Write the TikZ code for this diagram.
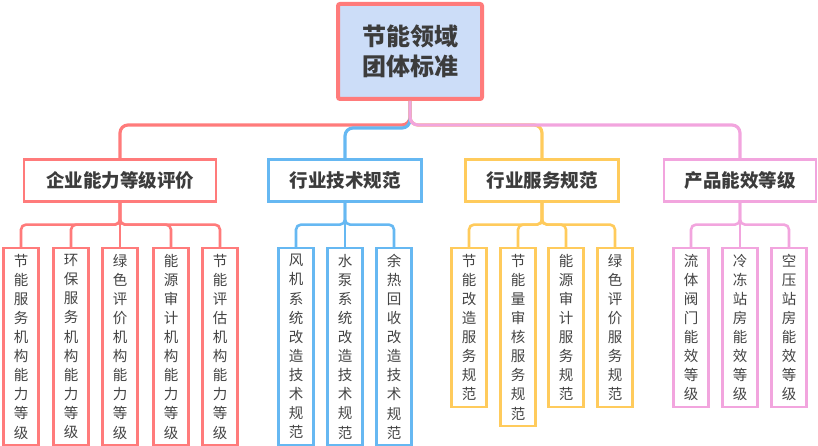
\documentclass[tikz,border=0pt]{standalone}
\usepackage{fontspec}
\newfontfamily\cjk{Noto Sans CJK SC}
\usetikzlibrary{calc}
\definecolor{cR}{HTML}{FF7B7B}
\definecolor{cB}{HTML}{66B8F2}
\definecolor{cY}{HTML}{FFCB5C}
\definecolor{cP}{HTML}{F2A5DE}
\definecolor{rootfill}{HTML}{CCDDF8}
\definecolor{txt}{HTML}{3C3C3C}
\definecolor{ltxt}{HTML}{444444}
\tikzset{
  rootbox/.style={draw=cR, line width=4pt, fill=rootfill, rounded corners=2pt,
    minimum width=144pt, minimum height=95pt, align=center, text=txt,
    font=\cjk\bfseries\fontsize{24}{30}\selectfont},
  lonebox/.style={draw, line width=2.2pt, fill=white, minimum height=42pt,
    text=txt, font=\cjk\bfseries\fontsize{18.5}{22}\selectfont},
  leafbox/.style={draw, line width=2.2pt, fill=white, minimum width=35pt,
    inner sep=0pt, anchor=north, align=center, text=ltxt,
    font=\cjk\fontsize{14.5}{19.1}\selectfont},
  topconn/.style={line width=3.2pt, rounded corners=8pt},
  leafconn/.style={line width=2.6pt, rounded corners=5pt},
}
\begin{document}
\begin{tikzpicture}[x=1pt,y=-1pt]
\useasboundingbox (0,0) rectangle (818,446);

% level-1 nodes
\node[lonebox, draw=cR, minimum width=192pt] (e1) at (120,180.5) {企业能力等级评价};
\node[lonebox, draw=cB, minimum width=153pt] (e2) at (345,180.5) {行业技术规范};
\node[lonebox, draw=cY, minimum width=153pt] (e3) at (542,180.5) {行业服务规范};
\node[lonebox, draw=cP, minimum width=152pt] (e4) at (740,180.5) {产品能效等级};

% root
\node[rootbox] (root) at (410,51.5) {节能领域\\团体标准};
\coordinate (j0) at ($(root.south)+(0,24)$);
\coordinate (j1) at ($(root.south)+(0,27)$);

% top connectors
\draw[topconn, cR] (root.south) -- (j0) -| (e1.north);
\draw[topconn, cB] (root.south) -- (j1) -| (e2.north);
\draw[topconn, cY] (root.south) -- (j0) -| (e3.north);
\draw[topconn, cP] (root.south) -- (j0) -| (e4.north);

% leaves: red
\node[leafbox, draw=cR, minimum height=197pt] (r1) at (21,247) {节\\能\\服\\务\\机\\构\\能\\力\\等\\级};
\node[leafbox, draw=cR, minimum height=197pt] (r2) at (71,247) {环\\保\\服\\务\\机\\构\\能\\力\\等\\级};
\node[leafbox, draw=cR, minimum height=197pt] (r3) at (120,247) {绿\\色\\评\\价\\机\\构\\能\\力\\等\\级};
\node[leafbox, draw=cR, minimum height=197pt] (r4) at (171,247) {能\\源\\审\\计\\机\\构\\能\\力\\等\\级};
\node[leafbox, draw=cR, minimum height=197pt] (r5) at (220,247) {节\\能\\评\\估\\机\\构\\能\\力\\等\\级};
% leaves: blue
\node[leafbox, draw=cB, minimum height=197pt] (b1) at (296,247) {风\\机\\系\\统\\改\\造\\技\\术\\规\\范};
\node[leafbox, draw=cB, minimum height=197pt] (b2) at (345,247) {水\\泵\\系\\统\\改\\造\\技\\术\\规\\范};
\node[leafbox, draw=cB, minimum height=197pt] (b3) at (394,247) {余\\热\\回\\收\\改\\造\\技\\术\\规\\范};
% leaves: yellow
\node[leafbox, draw=cY, minimum height=159pt] (y1) at (469,247) {节\\能\\改\\造\\服\\务\\规\\范};
\node[leafbox, draw=cY, minimum height=178pt] (y2) at (518,247) {节\\能\\量\\审\\核\\服\\务\\规\\范};
\node[leafbox, draw=cY, minimum height=159pt] (y3) at (566,247) {能\\源\\审\\计\\服\\务\\规\\范};
\node[leafbox, draw=cY, minimum height=159pt] (y4) at (615,247) {绿\\色\\评\\价\\服\\务\\规\\范};
% leaves: pink
\node[leafbox, draw=cP, minimum height=159pt] (p1) at (691,247) {流\\体\\阀\\门\\能\\效\\等\\级};
\node[leafbox, draw=cP, minimum height=159pt] (p2) at (740,247) {冷\\冻\\站\\房\\能\\效\\等\\级};
\node[leafbox, draw=cP, minimum height=159pt] (p3) at (789,247) {空\\压\\站\\房\\能\\效\\等\\级};

% leaf connectors
\coordinate (e1j) at ($(e1.south)+(0,22)$);
\coordinate (e2j) at ($(e2.south)+(0,22)$);
\coordinate (e3j) at ($(e3.south)+(0,22)$);
\coordinate (e4j) at ($(e4.south)+(0,22)$);
\foreach \l in {r1,r2,r4,r5} \draw[leafconn, cR] (e1.south) -- (e1j) -| (\l.north);
\draw[leafconn, cR] (e1.south) -- (r3.north);
\foreach \l in {b1,b3} \draw[leafconn, cB] (e2.south) -- (e2j) -| (\l.north);
\draw[leafconn, cB] (e2.south) -- (b2.north);
\foreach \l in {y1,y2,y3,y4} \draw[leafconn, cY] (e3.south) -- (e3j) -| (\l.north);
\foreach \l in {p1,p3} \draw[leafconn, cP] (e4.south) -- (e4j) -| (\l.north);
\draw[leafconn, cP] (e4.south) -- (p2.north);
\end{tikzpicture}
\end{document}
